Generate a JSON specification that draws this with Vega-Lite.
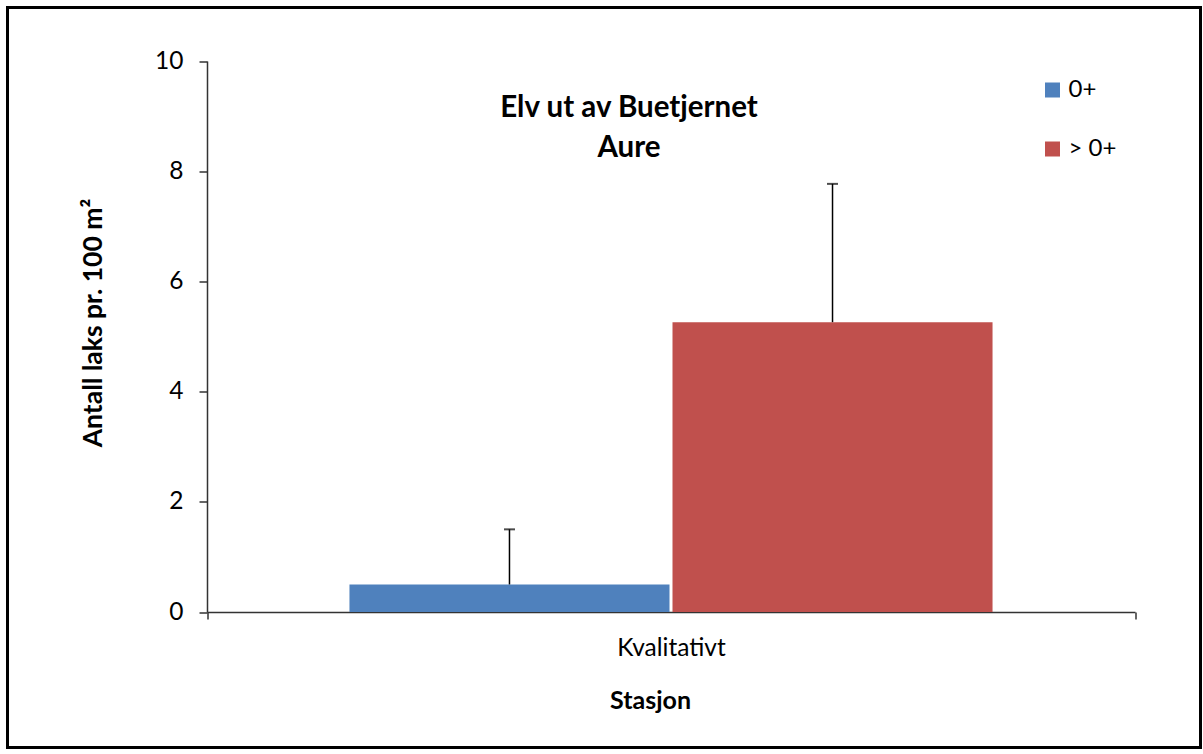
{
  "$schema": "https://vega.github.io/schema/vega-lite/v6.json",
  "width": 1193,
  "height": 740,
  "autosize": {"type": "none"},
  "padding": {"left": 7.5, "top": 7.5, "right": 2.5, "bottom": 6.5},
  "background": "white",
  "config": {
    "view": {"stroke": "black", "strokeWidth": 3},
    "font": "Lato"
  },
  "title": {
    "text": ["Elv ut av Buetjernet", "Aure"],
    "fontSize": 29.5,
    "fontWeight": "bold",
    "color": "black",
    "anchor": "middle",
    "frame": "group",
    "baseline": "top",
    "lineHeight": 40,
    "offset": 0,
    "dx": 25,
    "dy": 155.5
  },
  "data": {
    "values": [
      {"Stasjon": "Kvalitativt", "Gruppe": "0+", "Antall": 0.5, "Øvre": 1.5},
      {"Stasjon": "Kvalitativt", "Gruppe": "> 0+", "Antall": 5.26, "Øvre": 7.77}
    ]
  },
  "encoding": {
    "x": {
      "field": "Stasjon",
      "type": "nominal",
      "scale": {"range": [199.5, 1127.5], "paddingInner": 0, "paddingOuter": 0},
      "axis": {
        "title": "Stasjon",
        "offset": -135.5,
        "tickBand": "extent",
        "tickSize": 7,
        "tickWidth": 1.5,
        "tickColor": "#333333",
        "domainColor": "#333333",
        "domainWidth": 1.5,
        "labelAngle": 0,
        "labelFontSize": 24.5,
        "labelColor": "black",
        "labelPadding": 17,
        "titleFontSize": 25,
        "titleFontWeight": "bold",
        "titleColor": "black",
        "titleX": 642.5,
        "titleY": 88,
        "titleBaseline": "middle",
        "titleAlign": "center"
      }
    },
    "xOffset": {
      "field": "Gruppe",
      "type": "nominal",
      "sort": ["0+", "> 0+"],
      "scale": {"paddingInner": 0.0093, "paddingOuter": 0.441}
    }
  },
  "layer": [
    {
      "mark": {"type": "bar"},
      "encoding": {
        "y": {
          "field": "Antall",
          "type": "quantitative",
          "scale": {"domain": [0, 10], "range": [604.5, 53.5], "nice": false, "zero": true},
          "axis": {
            "title": "Antall laks pr. 100 m²",
            "values": [0, 2, 4, 6, 8, 10],
            "format": "d",
            "grid": false,
            "offset": -199.5,
            "domainColor": "#333333",
            "domainWidth": 1.5,
            "tickColor": "#333333",
            "tickWidth": 1.5,
            "tickSize": 8,
            "labelFontSize": 24.5,
            "labelColor": "black",
            "labelPadding": 16,
            "titleFontSize": 26.5,
            "titleFontWeight": "bold",
            "titleColor": "black",
            "titleAngle": -90,
            "titleX": -114,
            "titleY": 315,
            "titleBaseline": "middle",
            "titleAlign": "center"
          }
        },
        "color": {
          "field": "Gruppe",
          "type": "nominal",
          "scale": {"domain": ["0+", "> 0+"], "range": ["#4F81BD", "#C0504D"]},
          "legend": {
            "orient": "none",
            "legendX": 1033,
            "legendY": 70.5,
            "title": null,
            "symbolType": "square",
            "symbolSize": 225,
            "symbolStrokeWidth": 0,
            "labelFontSize": 24,
            "labelColor": "black",
            "labelOffset": 4,
            "rowPadding": 35
          }
        }
      }
    },
    {
      "mark": {"type": "rule", "color": "black", "strokeWidth": 1.5},
      "encoding": {
        "y": {"field": "Antall", "type": "quantitative"},
        "y2": {"field": "Øvre"}
      }
    },
    {
      "mark": {"type": "tick", "orient": "horizontal", "color": "black", "thickness": 2, "size": 11},
      "encoding": {
        "y": {"field": "Øvre", "type": "quantitative"}
      }
    }
  ]
}
